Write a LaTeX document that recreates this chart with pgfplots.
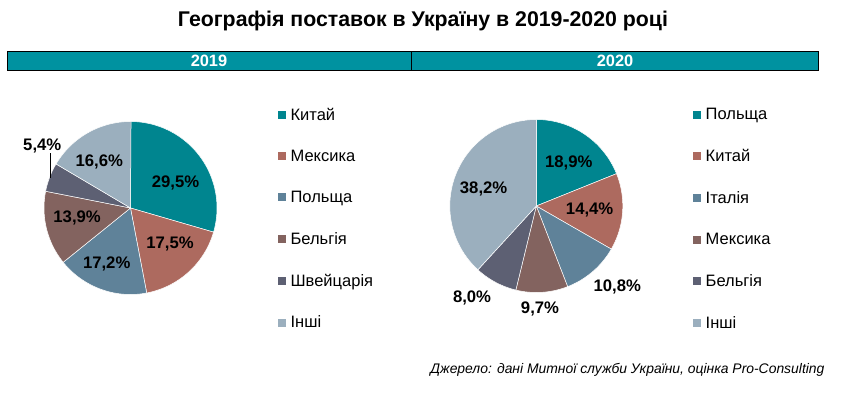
\documentclass[border=0pt]{standalone}
\usepackage{pgfplots}
\pgfplotsset{compat=1.18}
\usepackage{fontspec}
\setmainfont{Liberation Sans}
\definecolor{cTeal}{HTML}{00858F}
\definecolor{cRed}{HTML}{AD6A5F}
\definecolor{cBlue}{HTML}{5F8299}
\definecolor{cBrown}{HTML}{83635F}
\definecolor{cDark}{HTML}{5D6073}
\definecolor{cLight}{HTML}{9BAFBE}
\definecolor{cBar}{HTML}{0092A0}

\newcommand\pieslices[1]{%
  \gdef\cum{0}%
  \foreach \v/\c/\n in {#1}{%
    \pgfmathsetmacro\a{90-3.6*\cum}%
    \pgfmathsetmacro\b{90-3.6*(\cum+\v)}%
    \pgfmathsetmacro\newcum{\cum+\v}%
    \xdef\cum{\newcum}%
    \edef\temp{\noexpand\addplot[draw=white, line width=0.5pt, fill=\c, domain=\b:\a, samples=80, variable=\noexpand\t] ({cos(\noexpand\t)},{sin(\noexpand\t)}) -- (axis cs:0,0) -- cycle;
      \noexpand\addlegendentry{\n}}%
    \temp
  }}

\tikzset{lab/.style={font=\bfseries\fontsize{16.7}{18}\selectfont, inner sep=0pt}}
\pgfplotsset{
  piestyle/.style={
    scale only axis, width=173pt, height=173pt,
    xmin=-1, xmax=1, ymin=-1, ymax=1, hide axis, clip=false,
    legend cell align=left,
    legend style={draw=none, fill=none, anchor=north west, font=\fontsize{16.5}{18}\selectfont,
      inner sep=0pt, row sep=24.3pt,
      /tikz/every odd column/.append style={column sep=2.5pt}},
    legend image code/.code={\fill[##1,draw=none] (0pt,-4pt) rectangle (8pt,4pt);},
  },
}

\begin{document}
\begin{tikzpicture}[x=1pt,y=1pt]
\path (0,0) rectangle (849,-394);
% title
\node[font=\bfseries\fontsize{21.3}{24}\selectfont] at (423,-21) {Географія поставок в Україну в 2019-2020 році};
% header bar
\fill[cBar] (7,-51) rectangle (818,-70);
\draw[black, line width=1pt] (7,-51) rectangle (818,-70);
\draw[black, line width=1pt] (411.7,-51) -- (411.7,-70);
\node[font=\bfseries\fontsize{16.4}{18}\selectfont, text=white] at (209,-60.5) {2019};
\node[font=\bfseries\fontsize{16.4}{18}\selectfont, text=white] at (615,-60.5) {2020};

% 2019 pie
\begin{axis}[piestyle, at={(130.5pt,-208pt)}, anchor=center,
  legend style={at={(axis description cs:1.352,1.092)}}]
\pieslices{29.5/cTeal/Китай, 17.5/cRed/Мексика, 17.2/cBlue/Польща, 13.9/cBrown/Бельгія, 5.4/cDark/Швейцарія, 16.6/cLight/Інші}
\node[lab] at (axis cs:0.52,0.285) {29,5\%};
\node[lab] at (axis cs:0.457,-0.416) {17,5\%};
\node[lab] at (axis cs:-0.275,-0.647) {17,2\%};
\node[lab] at (axis cs:-0.617,-0.119) {13,9\%};
\node[lab] at (axis cs:-0.361,0.535) {16,6\%};
\node[lab] at (axis cs:-1.02,0.72) {5,4\%};
\draw[black, line width=0.7pt] (axis cs:-0.931,0.632) -- (axis cs:-0.931,0.343);
\end{axis}

% 2020 pie
\begin{axis}[piestyle, at={(536.3pt,-206pt)}, anchor=center,
  legend style={at={(axis description cs:1.406,1.077)}}]
\pieslices{18.9/cTeal/Польща, 14.4/cRed/Китай, 10.8/cBlue/Італія, 9.7/cBrown/Мексика, 8.0/cDark/Бельгія, 38.2/cLight/Інші}
\node[lab] at (axis cs:0.376,0.494) {18,9\%};
\node[lab] at (axis cs:0.617,-0.046) {14,4\%};
\node[lab] at (axis cs:0.936,-0.934) {10,8\%};
\node[lab] at (axis cs:0.043,-1.195) {9,7\%};
\node[lab] at (axis cs:-0.743,-1.065) {8,0\%};
\node[lab] at (axis cs:-0.609,0.192) {38,2\%};
\end{axis}

\node[font=\itshape\fontsize{13.9}{16}\selectfont, anchor=east] at (828,-370) {Джерело: дані Митної служби України, оцінка Pro-Consulting};
\end{tikzpicture}
\end{document}
